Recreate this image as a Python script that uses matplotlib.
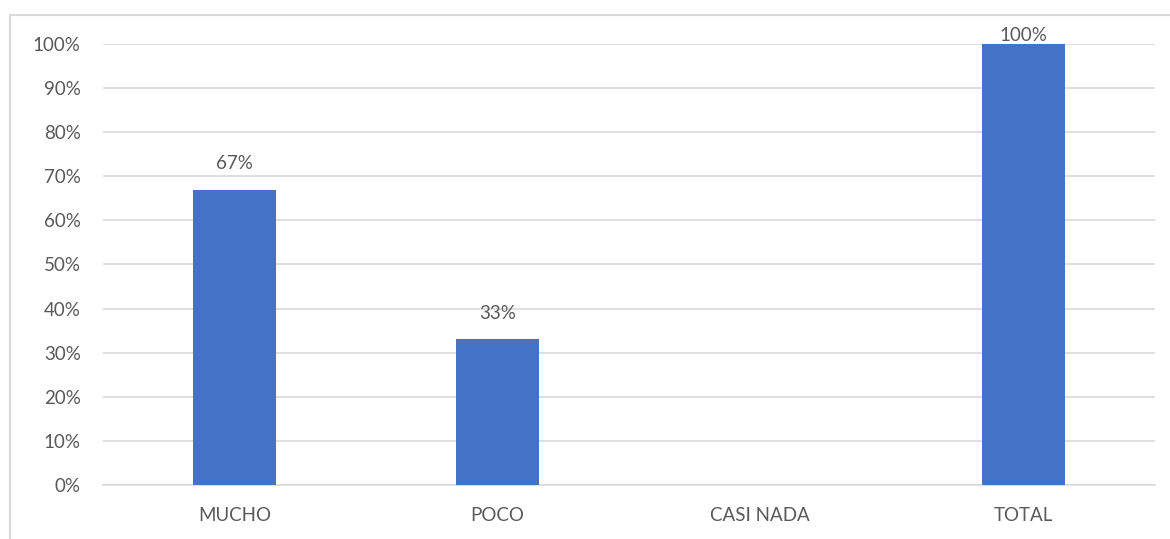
import matplotlib.pyplot as plt
from matplotlib.patches import Rectangle
from matplotlib.ticker import PercentFormatter

categories = ["MUCHO", "POCO", "CASI NADA", "TOTAL"]
values = [0.67, 0.33, 0.0, 1.00]
labels = ["67%", "33%", "", "100%"]

plt.rcParams['font.family'] = ['Lato', 'DejaVu Sans']
txt = "#595959"
grid = "#d9d9d9"

fig = plt.figure(figsize=(11.70, 5.39), dpi=100)
ax = fig.add_axes([0.088, 0.1002, 0.899, 0.8182])

# chart border (right and bottom edges fall outside the image)
fig.patches.append(Rectangle((10 / 1170, -0.05), 1.1, 1 - 15 / 539 + 0.05,
                             transform=fig.transFigure, fill=False,
                             edgecolor=grid, linewidth=1.5))

x = range(len(categories))
ax.bar(x, values, width=0.316, color="#4472c4", zorder=3)
ax.set_xlim(-0.5, len(categories) - 0.5)
ax.set_ylim(0, 1)
ax.set_yticks([i / 10 for i in range(11)])
ax.yaxis.set_major_formatter(PercentFormatter(1.0, decimals=0))
ax.grid(axis="y", color=grid, linewidth=1.2, zorder=0)
ax.set_xticks(list(x))
ax.set_xticklabels(categories)
ax.tick_params(length=0, labelsize=13.5, colors=txt)
ax.tick_params(axis="y", pad=16)
ax.tick_params(axis="x", pad=16)
for s in ["top", "right", "left"]:
    ax.spines[s].set_visible(False)
ax.spines["bottom"].set_color(grid)
ax.spines["bottom"].set_linewidth(1.2)

for xi, v, lab in zip(x, values, labels):
    if not lab:
        continue
    off = 6 if v >= 1 else 19
    ax.annotate(lab, (xi, v), xytext=(0, off), textcoords="offset points",
                ha="center", va="center", fontsize=13.5, color=txt)

fig.savefig("out.png", dpi=100)
